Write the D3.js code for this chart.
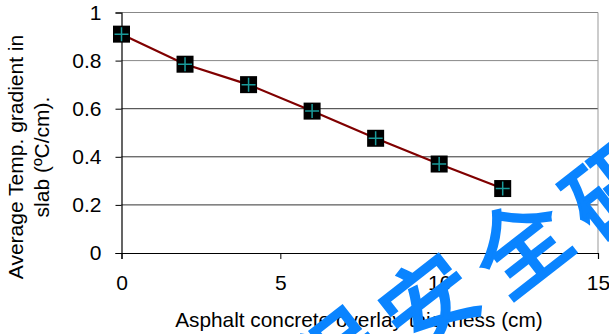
<!DOCTYPE html>
<html>
<head>
<meta charset="utf-8">
<script src="https://cdn.jsdelivr.net/npm/d3@7"></script>
<style>
  body { margin: 0; background: #fff; }
  text { font-family: "Liberation Sans", Arial, sans-serif; }
</style>
</head>
<body>
<div id="chart"></div>
<script>
const thickness = [0, 2, 4, 6, 8, 10, 12];
const gradient = [0.91, 0.785, 0.70, 0.59, 0.477, 0.37, 0.268];
const xTicks = [0, 5, 10, 15];
const yTicks = [0, 0.2, 0.4, 0.6, 0.8, 1];
const watermark = ["程", "安", "全", "研"];

const width = 609;
const height = 334;

const svg = d3.select("#chart")
  .append("svg")
  .attr("width", width)
  .attr("height", height);

const x = d3.scaleLinear().domain([0, 15]).range([121.5, 598]);
const y = d3.scaleLinear().domain([0, 1]).range([253, 12.5]);

// gridlines
svg.selectAll(".grid")
  .data(yTicks.filter((d) => d > 0))
  .join("line")
  .attr("class", "grid")
  .attr("x1", x(0))
  .attr("x2", x(15))
  .attr("y1", (d) => y(d))
  .attr("y2", (d) => y(d))
  .attr("stroke", (d) => (d >= 0.8 ? "#888" : "#333"))
  .attr("stroke-width", 1);

// right border
svg.append("line")
  .attr("x1", x(15)).attr("x2", x(15))
  .attr("y1", y(1)).attr("y2", y(0))
  .attr("stroke", "#999");

const xAxis = svg.append("g")
  .attr("transform", `translate(0,${y(0)})`)
  .call(d3.axisBottom(x).tickValues(xTicks).tickSize(6).tickPadding(16).tickFormat(d3.format("d")));

const yAxis = svg.append("g")
  .attr("transform", `translate(${x(0)},0)`)
  .call(d3.axisLeft(y).tickValues(yTicks).tickSize(6).tickPadding(14).tickFormat((d) => (d === 0 || d === 1 ? d : d3.format(".1f")(d))));

[xAxis, yAxis].forEach((g) => {
  g.selectAll("path").attr("stroke", "#000").attr("stroke-width", 1.2);
  g.selectAll("line").attr("stroke", "#000");
  g.selectAll("text")
    .attr("font-size", 21)
    .attr("fill", "#000")
    .style("font-family", "'Liberation Sans', Arial, sans-serif");
});

// line
const line = d3.line()
  .x((d, i) => x(thickness[i]))
  .y((d) => y(d));

svg.append("path")
  .datum(gradient)
  .attr("d", line)
  .attr("fill", "none")
  .attr("stroke", "#800000")
  .attr("stroke-width", 2.2);

// markers
const pts = svg.selectAll(".pt")
  .data(gradient)
  .join("g")
  .attr("class", "pt")
  .attr("transform", (d, i) => `translate(${x(thickness[i])},${y(d)})`);

pts.append("rect")
  .attr("x", -8.5).attr("y", -8.5)
  .attr("width", 17).attr("height", 17)
  .attr("fill", "#000");

pts.append("path")
  .attr("d", "M-7,0H7M0,-7V7")
  .attr("stroke", "#1a9a9a")
  .attr("stroke-width", 1.5);

// axis titles
svg.append("text")
  .attr("x", 359)
  .attr("y", 327)
  .attr("text-anchor", "middle")
  .attr("font-size", 20.8)
  .text("Asphalt concrete overlay thickness (cm)");

const yTitle = svg.append("text")
  .attr("transform", "translate(0,157) rotate(-90)")
  .attr("text-anchor", "middle")
  .attr("font-size", 21);
yTitle.append("tspan").attr("x", 0).attr("y", 23).text("Average Temp. gradient in");
yTitle.append("tspan").attr("x", 0).attr("y", 49).text("slab (ºC/cm).");

// watermark
svg.selectAll(".wm")
  .data(watermark)
  .join("text")
  .attr("class", "wm")
  .attr("transform", (d, i) => `translate(${333 + i * 92},${355 - i * 57}) rotate(-38)`)
  .attr("text-anchor", "middle")
  .attr("dominant-baseline", "central")
  .attr("font-size", 92)
  .attr("fill", "#0a84ff")
  .attr("stroke", "#0a84ff")
  .attr("stroke-width", 3)
  .style("font-family", "'Noto Sans CJK SC', sans-serif")
  .text((d) => d);
</script>
</body>
</html>
